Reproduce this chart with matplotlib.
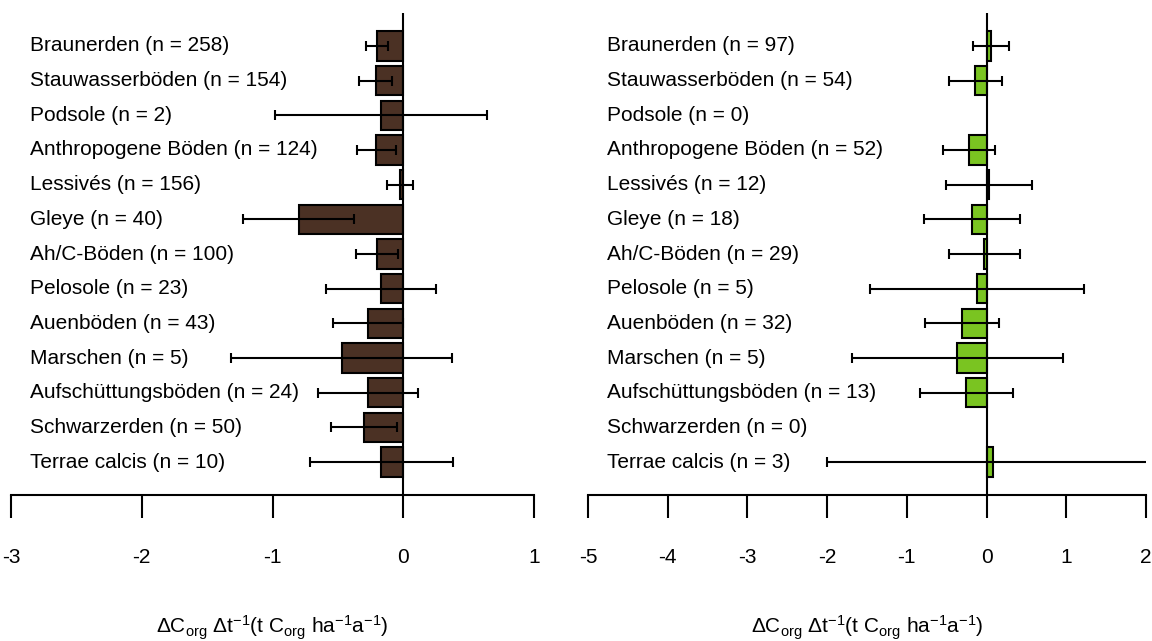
import numpy as np
import matplotlib.pyplot as plt

plt.rcParams['font.family'] = ['Liberation Sans', 'DejaVu Sans']
plt.rcParams['mathtext.fontset'] = 'custom'
plt.rcParams['mathtext.rm'] = 'Liberation Sans'
plt.rcParams['mathtext.it'] = 'Liberation Sans:italic'

# soil groups, top to bottom
categories = ["Braunerden", "Stauwasserböden", "Podsole", "Anthropogene Böden",
              "Lessivés", "Gleye", "Ah/C-Böden", "Pelosole", "Auenböden",
              "Marschen", "Aufschüttungsböden", "Schwarzerden", "Terrae calcis"]

# left panel
n_left = [258, 154, 2, 124, 156, 40, 100, 23, 43, 5, 24, 50, 10]
mean_left = [-0.20, -0.21, -0.17, -0.205, -0.024, -0.80, -0.20, -0.17,
             -0.27, -0.47, -0.27, -0.30, -0.17]
err_left = [0.085, 0.125, 0.81, 0.15, 0.10, 0.425, 0.163, 0.42,
            0.266, 0.845, 0.38, 0.255, 0.547]

# right panel (n = 0 -> no bar)
n_right = [97, 54, 0, 52, 12, 18, 29, 5, 32, 5, 13, 0, 3]
mean_right = [0.06, -0.14, np.nan, -0.218, 0.035, -0.18, -0.027, -0.12,
              -0.305, -0.366, -0.255, np.nan, 0.08]
err_right = [0.225, 0.334, np.nan, 0.33, 0.54, 0.605, 0.447, 1.34,
             0.463, 1.324, 0.585, np.nan, 2.08]

ticks_left = [-3, -2, -1, 0, 1]
ticks_right = [-5, -4, -3, -2, -1, 0, 1, 2]

xlabel = r'$\mathrm{\Delta C_{org}\ \Delta t^{-1}(t\ C_{org}\ ha^{-1}a^{-1})}$'

W, H = 1152, 641
fig = plt.figure(figsize=(W / 100, H / 100), dpi=100)


def panel(x0, x1, ticks, n, means, errs, color):
    ax = fig.add_axes([x0 / W, 1 - 495 / H, (x1 - x0) / W, (495 - 13) / H])
    y = np.arange(len(categories))
    m = np.array(means, dtype=float)
    e = np.array(errs, dtype=float)
    ok = ~np.isnan(m)
    ax.barh(y[ok], m[ok], height=0.85, color=color, edgecolor='black', linewidth=1.5, zorder=2)
    ax.errorbar(m[ok], y[ok], xerr=e[ok], fmt='none', ecolor='black',
                elinewidth=1.5, capsize=3.5, capthick=1.5, zorder=3)
    ax.axvline(0, color='black', lw=1.5, zorder=4)
    lx = (19 + x0) / W  # labels start ~19 px right of the axis start
    for i, (c, k) in enumerate(zip(categories, n)):
        ax.text(19 / (x1 - x0), i, f"{c} (n = {k})", transform=ax.get_yaxis_transform(),
                ha='left', va='center', fontsize=15, zorder=5)
    ax.set_xlim(ticks[0], ticks[-1])
    ax.set_ylim(12.95, -0.95)
    ax.set_xticks(ticks)
    ax.set_xticklabels([str(t) for t in ticks])
    ax.set_yticks([])
    for s in ['top', 'left', 'right']:
        ax.spines[s].set_visible(False)
    ax.spines['bottom'].set_linewidth(1.5)
    ax.tick_params(axis='x', direction='out', length=16.5, width=1.5,
                   labelsize=15, pad=22)
    ax.patch.set_alpha(0)
    fig.text((x0 + x1) / 2 / W, 1 - 628 / H, xlabel, ha='center', va='center', fontsize=15)
    return ax


panel(11, 534, ticks_left, n_left, mean_left, err_left, '#4b3124')
panel(588, 1146, ticks_right, n_right, mean_right, err_right, '#7ac421')

fig.savefig('out.png', dpi=100)
